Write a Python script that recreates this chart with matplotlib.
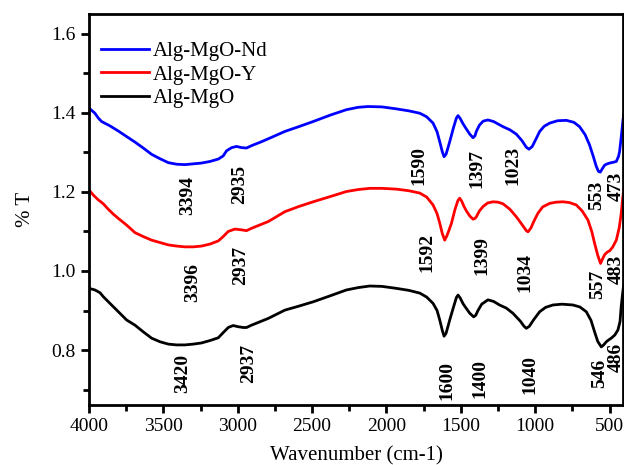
import matplotlib
matplotlib.use("Agg")
import matplotlib.pyplot as plt
from matplotlib.ticker import MultipleLocator

plt.rcParams["font.family"] = ["Liberation Serif", "DejaVu Serif"]

# Alg-MgO-Nd (blue)
wn_nd = [4000, 3960, 3938, 3915, 3859, 3803, 3747, 3691, 3635, 3579, 3523, 3467, 3411, 3355,
         3299, 3243, 3187, 3131, 3098, 3075, 3041, 3008, 2974, 2941, 2907, 2840, 2773, 2683,
         2590, 2493, 2380, 2269, 2190, 2124, 2030, 1933, 1850, 1776, 1730, 1687, 1660, 1642,
         1625, 1613, 1600, 1588, 1575, 1550, 1530, 1519, 1505, 1485, 1463, 1440, 1418, 1405,
         1396, 1375, 1350, 1318, 1280, 1217, 1170, 1127, 1090, 1060, 1042, 1020, 1000, 970,
         940, 903, 850, 791, 740, 702, 665, 635, 610, 590, 575, 563, 550, 535, 522, 500,
         475, 455, 440, 433, 420, 410, 405]
t_nd = [1.412, 1.399, 1.387, 1.378, 1.367, 1.354, 1.340, 1.326, 1.311, 1.295, 1.284, 1.274, 1.270, 1.269,
        1.271, 1.273, 1.277, 1.283, 1.291, 1.304, 1.312, 1.315, 1.312, 1.311, 1.317, 1.327, 1.338, 1.353,
        1.365, 1.378, 1.394, 1.408, 1.414, 1.416, 1.415, 1.410, 1.405, 1.399, 1.390, 1.374, 1.352, 1.327,
        1.302, 1.289, 1.295, 1.310, 1.327, 1.362, 1.387, 1.393, 1.386, 1.372, 1.359, 1.346, 1.337, 1.342,
        1.353, 1.369, 1.379, 1.382, 1.378, 1.365, 1.357, 1.346, 1.330, 1.313, 1.308, 1.315, 1.330, 1.353,
        1.366, 1.374, 1.380, 1.381, 1.376, 1.365, 1.345, 1.319, 1.290, 1.265, 1.252, 1.250, 1.258, 1.267, 1.270, 1.273,
        1.275, 1.277, 1.290, 1.302, 1.345, 1.382, 1.395]

# Alg-MgO-Y (red)
wn_y = [4000, 3971, 3938, 3904, 3870, 3837, 3803, 3747, 3691, 3635, 3579, 3523, 3467, 3411,
        3355, 3299, 3243, 3187, 3131, 3098, 3064, 3019, 2974, 2941, 2907, 2795, 2683,
        2590, 2493, 2380, 2269, 2190, 2112, 2030, 1933, 1850, 1776, 1730, 1687, 1660, 1642,
        1625, 1609, 1595, 1580, 1563, 1540, 1520, 1508, 1495, 1480, 1463, 1440, 1418, 1405,
        1396, 1375, 1351, 1320, 1284, 1250, 1217, 1170, 1127, 1090, 1060, 1049, 1030, 1010,
        982, 950, 903, 860, 814, 770, 724, 685, 646, 620, 601, 580, 561, 548, 534, 515, 500,
        480, 455, 435, 422, 411, 405]
t_y = [1.205, 1.192, 1.180, 1.170, 1.156, 1.144, 1.133, 1.116, 1.097, 1.087, 1.078, 1.072, 1.066, 1.063,
       1.061, 1.061, 1.063, 1.068, 1.076, 1.087, 1.100, 1.106, 1.104, 1.102, 1.108, 1.125, 1.150,
       1.163, 1.175, 1.188, 1.201, 1.206, 1.209, 1.209, 1.207, 1.203, 1.197, 1.187, 1.167, 1.145, 1.121,
       1.095, 1.078, 1.088, 1.103, 1.121, 1.155, 1.178, 1.184, 1.177, 1.164, 1.152, 1.139, 1.131, 1.133,
       1.137, 1.152, 1.163, 1.172, 1.175, 1.174, 1.170, 1.156, 1.137, 1.118, 1.102, 1.099, 1.108, 1.125,
       1.146, 1.162, 1.171, 1.174, 1.175, 1.173, 1.167, 1.152, 1.129, 1.100, 1.070, 1.040, 1.019, 1.030, 1.041, 1.048, 1.051,
       1.060, 1.078, 1.110, 1.146, 1.188, 1.205]

# Alg-MgO (black)
wn_mgo = [4000, 3960, 3926, 3904, 3859, 3803, 3747, 3691, 3635, 3579, 3523, 3467, 3411, 3355,
          3299, 3243, 3187, 3131, 3098, 3064, 3031, 2997, 2963, 2941, 2907, 2795, 2683,
          2590, 2493, 2380, 2269, 2190, 2112, 2030, 1933, 1850, 1776, 1730, 1687, 1660, 1642,
          1625, 1613, 1600, 1588, 1575, 1550, 1530, 1519, 1505, 1485, 1463, 1440, 1414, 1400,
          1385, 1360, 1318, 1280, 1240, 1194, 1150, 1100, 1075, 1060, 1040, 1010, 970, 930,
          881, 820, 747, 700, 657, 625, 601, 580, 556, 540, 522, 505, 489, 465, 444, 430,
          422, 412, 405]
t_mgo = [0.956, 0.952, 0.945, 0.935, 0.918, 0.897, 0.876, 0.863, 0.846, 0.830, 0.821, 0.815, 0.813, 0.813,
         0.815, 0.818, 0.824, 0.831, 0.844, 0.857, 0.862, 0.859, 0.857, 0.857, 0.863, 0.880, 0.901,
         0.911, 0.922, 0.937, 0.952, 0.958, 0.962, 0.961, 0.956, 0.951, 0.944, 0.934, 0.918, 0.900, 0.876,
         0.850, 0.835, 0.842, 0.858, 0.876, 0.908, 0.933, 0.939, 0.932, 0.917, 0.905, 0.893, 0.884, 0.888,
         0.900, 0.916, 0.927, 0.923, 0.914, 0.906, 0.893, 0.873, 0.860, 0.855, 0.860, 0.877, 0.897, 0.908,
         0.914, 0.916, 0.914, 0.909, 0.897, 0.875, 0.846, 0.822, 0.808, 0.813, 0.821, 0.826, 0.830, 0.838, 0.851, 0.872,
         0.910, 0.945, 0.965]

names = ["Alg-MgO-Nd", "Alg-MgO-Y", "Alg-MgO"]
colors = ["#0000ff", "#ff0000", "#000000"]

# peak labels
peaks_nd = ["3394", "2935", "1590", "1397", "1023", "553", "473"]
peaks_y = ["3396", "2937", "1592", "1399", "1034", "557", "483"]
peaks_mgo = ["3420", "2937", "1600", "1400", "1040", "546", "486"]

# where the peak labels sit (x, y in data units)
pos_nd = [(3335, 1.190), (2986, 1.220), (1783, 1.266), (1394, 1.258), (1152, 1.266), (588, 1.190), (453, 1.213)]
pos_y = [(3301, 0.970), (2979, 1.013), (1729, 1.046), (1360, 1.038), (1071, 0.995), (581, 0.965), (453, 1.003)]
pos_mgo = [(3369, 0.742), (2925, 0.765), (1595, 0.724), (1373, 0.727), (1037, 0.737), (568, 0.742), (453, 0.782)]

fig = plt.figure(figsize=(6.24, 4.65), dpi=100)
ax = fig.add_axes([89 / 624, 60 / 465, 534 / 624, 391 / 465])

ax.plot(wn_nd, t_nd, color=colors[0], lw=2.0, label=names[0])
ax.plot(wn_y, t_y, color=colors[1], lw=2.0, label=names[1])
ax.plot(wn_mgo, t_mgo, color=colors[2], lw=2.0, label=names[2])

for labels, positions in [(peaks_nd, pos_nd), (peaks_y, pos_y), (peaks_mgo, pos_mgo)]:
    for lab, (x, y) in zip(labels, positions):
        ax.text(x, y, lab, rotation=90, ha="center", va="center",
                fontsize=14, fontweight="bold")

ax.set_xlim(4000, 410)
ax.set_ylim(0.661, 1.65)
ax.xaxis.set_major_locator(MultipleLocator(500))
ax.xaxis.set_minor_locator(MultipleLocator(250))
ax.yaxis.set_major_locator(MultipleLocator(0.2))
ax.yaxis.set_minor_locator(MultipleLocator(0.1))
ax.tick_params(which="major", direction="out", length=6, width=2, labelsize=14)
ax.tick_params(which="minor", direction="out", length=4, width=2)
ax.tick_params(top=False, right=False)
for s in ax.spines.values():
    s.set_linewidth(2)

ax.set_xlabel("Wavenumber (cm-1)", fontsize=15, labelpad=8)
ax.set_ylabel("% T", fontsize=15, labelpad=12)

ax.legend(loc="upper left", bbox_to_anchor=(12 / 534, 0.93), frameon=False, fontsize=15,
          handlelength=2.3, handletextpad=0.2, labelspacing=0.2,
          borderpad=0, borderaxespad=0)

fig.savefig("out.png", dpi=100)
